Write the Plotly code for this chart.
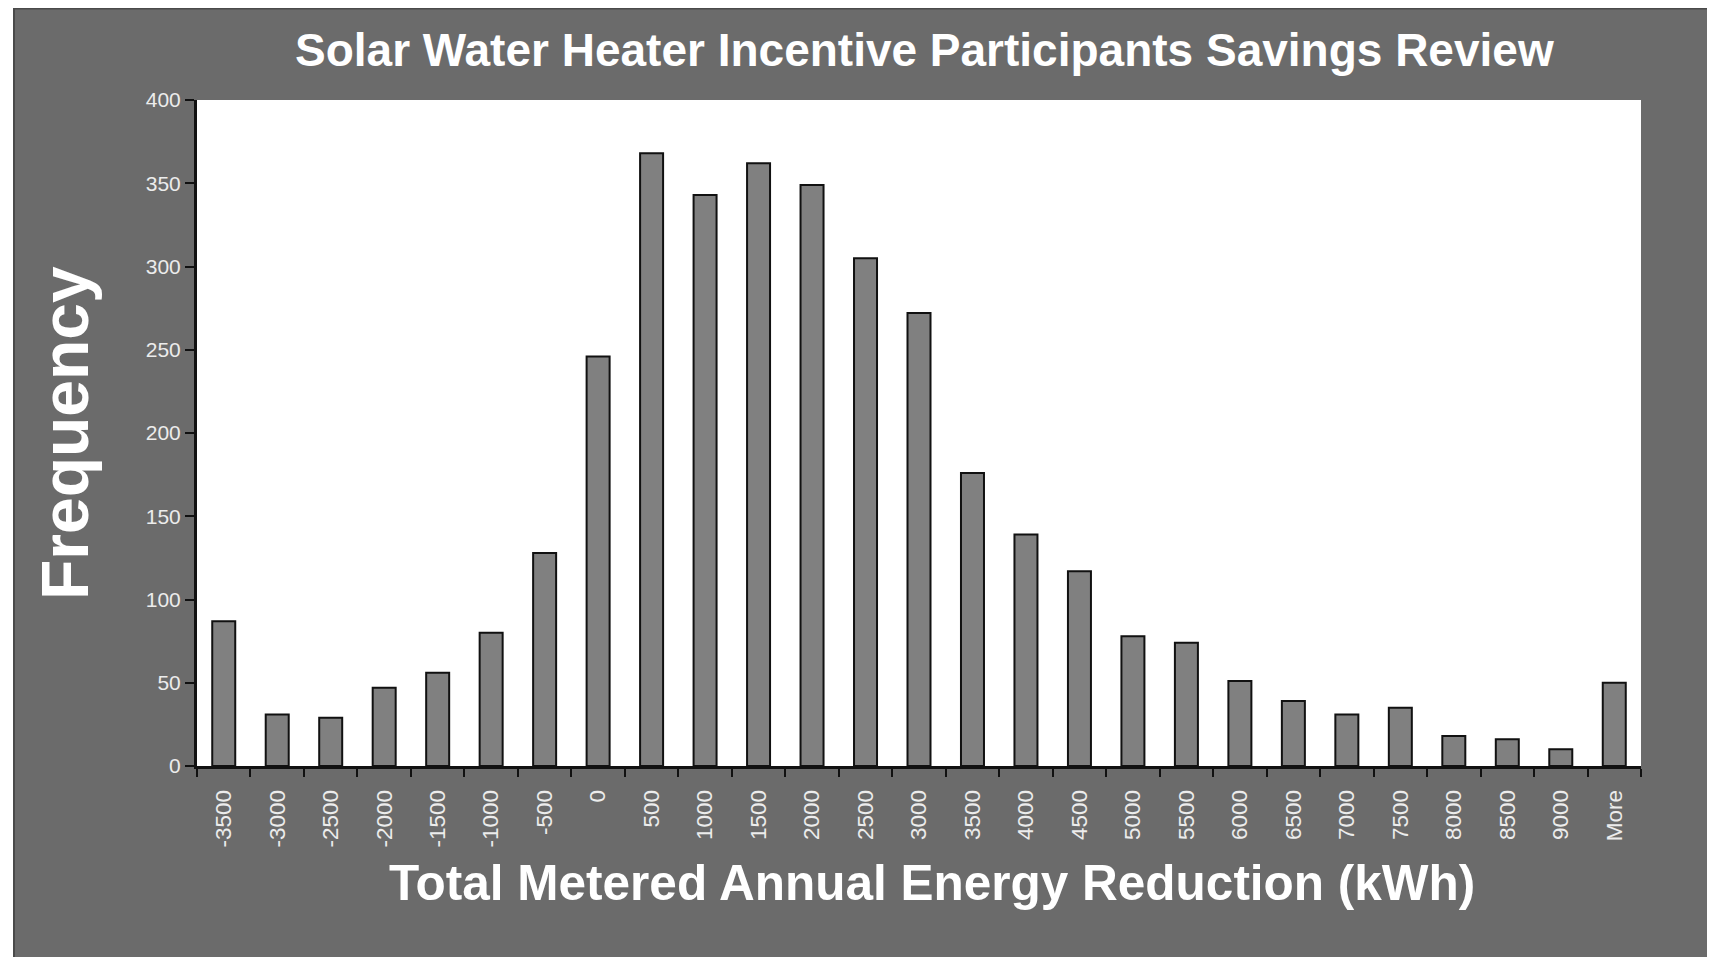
import plotly.graph_objects as go

categories = ["-3500", "-3000", "-2500", "-2000", "-1500", "-1000", "-500", "0",
              "500", "1000", "1500", "2000", "2500", "3000", "3500", "4000",
              "4500", "5000", "5500", "6000", "6500", "7000", "7500", "8000",
              "8500", "9000", "More"]
frequency = [87, 31, 29, 47, 56, 80, 128, 246, 368, 343, 362, 349, 305, 272,
             176, 139, 117, 78, 74, 51, 39, 31, 35, 18, 16, 10, 50]
y_ticks = [0, 50, 100, 150, 200, 250, 300, 350, 400]

title_text = "Solar Water Heater Incentive Participants Savings Review"
x_title = "Total Metered Annual Energy Reduction (kWh)"
y_title = "Frequency"

BG = "#6b6b6b"
NARROW = "Liberation Sans Narrow, Arial Narrow, Liberation Sans, Arial, sans-serif"
WIDE = "Liberation Sans, Arial, sans-serif"

# figure is placed at an 8px page offset (body margin)
W, H = 1707, 949
L, R, T, B = 189, 74, 92, 191
PW, PH = W - L - R, H - T - B


def px(fx):
    return (fx - L) / PW


def py(fy):
    return (H - B - fy) / PH


fig = go.Figure()
fig.add_trace(go.Bar(
    x=categories, y=frequency,
    marker=dict(color="#808080", line=dict(color="#111111", width=2)),
))

fig.update_layout(
    width=W, height=H,
    margin=dict(l=L, r=R, t=T, b=B),
    paper_bgcolor=BG,
    plot_bgcolor="white",
    bargap=0.57,
    showlegend=False,
    xaxis=dict(
        type="category",
        tickangle=-90,
        tickson="boundaries",
        ticks="outside", ticklen=8, tickwidth=2, tickcolor="#111111",
        ticklabelstandoff=12,
        showline=True, linecolor="#111111", linewidth=3,
        showgrid=False, zeroline=False,
        tickfont=dict(family=NARROW, size=22.5, color="#ececec"),
    ),
    yaxis=dict(
        range=[0, 400],
        tickvals=y_ticks,
        ticks="outside", ticklen=9, tickwidth=2, tickcolor="#111111",
        showline=True, linecolor="#111111", linewidth=3,
        showgrid=False, zeroline=False,
        tickfont=dict(family=NARROW, size=21, color="#ececec"),
    ),
    annotations=[
        dict(text="<b>" + title_text + "</b>", xref="paper", yref="paper",
             x=px(917), y=py(42), xanchor="center", yanchor="middle",
             showarrow=False, font=dict(family=NARROW, size=46, color="white")),
        dict(text="<b>" + x_title + "</b>", xref="paper", yref="paper",
             x=px(924), y=py(874), xanchor="center", yanchor="middle",
             showarrow=False, font=dict(family=NARROW, size=49.5, color="white")),
        dict(text="<b>" + y_title + "</b>", xref="paper", yref="paper",
             x=px(57), y=0.5, xanchor="center", yanchor="middle",
             textangle=-90,
             showarrow=False, font=dict(family=WIDE, size=66, color="white")),
    ],
    shapes=[
        dict(type="rect", xref="paper", yref="paper",
             x0=px(0), x1=px(5), y0=py(H), y1=py(0),
             line=dict(width=0), fillcolor="white", layer="above"),
        dict(type="line", xref="paper", yref="paper",
             x0=px(5), x1=px(W), y0=py(0.5), y1=py(0.5),
             line=dict(width=2, color="#4a4a4a"), layer="above"),
        dict(type="line", xref="paper", yref="paper",
             x0=px(6), x1=px(6), y0=py(0), y1=py(H),
             line=dict(width=2, color="#4a4a4a"), layer="above"),
    ],
)

fig.write_html("out.html")
